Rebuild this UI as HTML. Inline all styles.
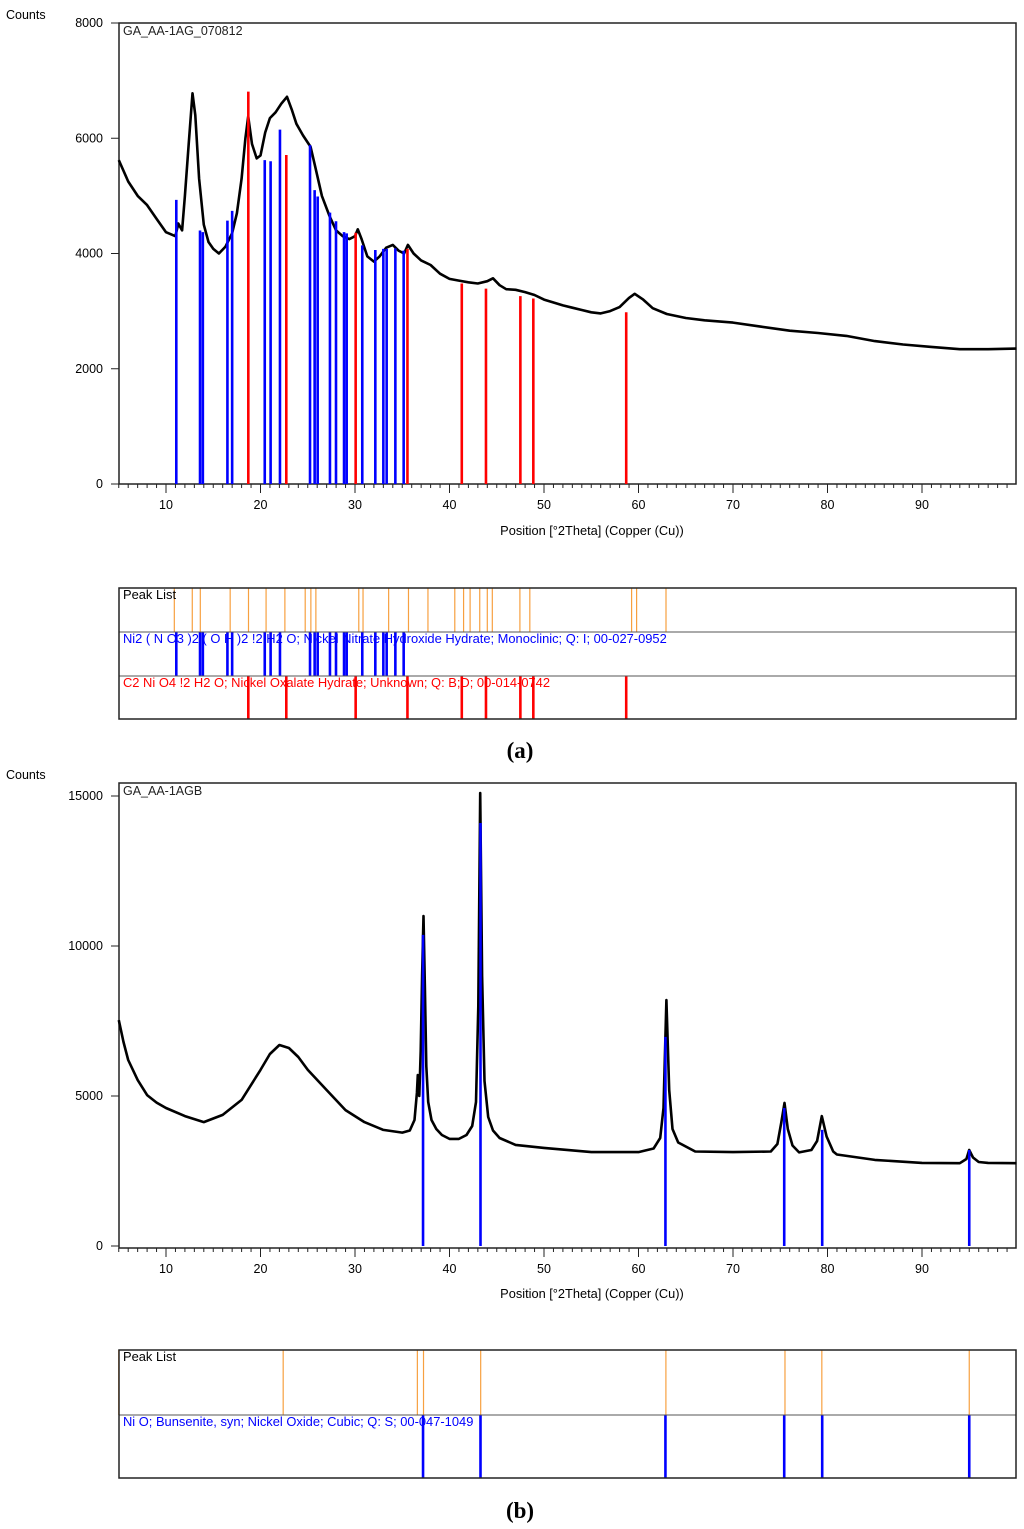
<!DOCTYPE html>
<html><head><meta charset="utf-8"><style>
body{margin:0;background:#fff;}
svg{display:block;font-family:"Liberation Sans",sans-serif;}
</style></head><body>
<svg id="s" width="1024" height="1529" viewBox="0 0 1024 1529" xmlns="http://www.w3.org/2000/svg"></svg>
<script>
// ---------- Data (a) ----------
const curveA_t=[5,6,7,8,9,10,11,11.3,11.7,12,12.4,12.8,13.1,13.5,14,14.5,15,15.6,16.3,17,17.5,18,18.4,18.7,19.1,19.6,20,20.5,21,21.6,22.2,22.8,23.3,23.8,24.5,25.3,25.8,26.5,27.3,28,28.7,29.4,30,30.3,30.7,31.3,32,32.6,33.3,34,34.6,35.2,35.6,36.2,37,38,39,40,41,42,43,44,44.6,45.3,46,47,48,49,50,51,52,53,54,55,56,57,58,59,59.6,60.5,61.5,63,65,67,70,73,76,79,82,85,88,91,94,97,100];
const curveA_c=[5620,5250,5000,4840,4600,4370,4300,4520,4400,5000,5900,6780,6400,5300,4500,4200,4080,4000,4120,4350,4700,5300,6000,6380,5900,5650,5700,6100,6350,6450,6600,6720,6500,6250,6050,5850,5500,5000,4650,4400,4300,4250,4300,4420,4250,3950,3860,3950,4100,4150,4050,4000,4150,4000,3880,3800,3650,3560,3530,3500,3480,3520,3570,3450,3380,3370,3330,3280,3200,3150,3100,3060,3020,2980,2960,3000,3070,3230,3300,3200,3050,2950,2880,2840,2800,2730,2660,2620,2570,2480,2420,2380,2340,2340,2350];
const blueA_t=[11.09,13.6,13.9,16.5,17.0,20.45,21.07,22.06,25.24,25.73,26.05,27.35,27.99,28.84,29.12,30.77,32.15,33.0,33.35,34.27,35.15];
const blueA_c=[4930,4400,4370,4570,4740,5620,5600,6150,5880,5100,4990,4710,4560,4370,4350,4140,4060,4080,4080,4090,4050];
const redA_t=[18.71,22.73,30.07,35.55,41.3,43.86,47.5,48.87,58.7];
const redA_c=[6810,5710,4360,4080,3480,3390,3260,3220,2980];
const peaksA_t=[10.88,12.78,13.63,16.79,18.73,20.59,22.58,24.73,25.33,25.86,30.40,30.85,33.56,35.66,37.72,40.56,41.49,42.18,43.20,44.00,44.53,47.45,48.50,59.27,59.80,62.91];
const yTicksA=[0,2000,4000,6000,8000];
// ---------- Data (b) ----------
const curveB_t=[5,5.5,6,7,8,9,10,12,14,16,18,20,21,22,23,24,25,27,29,31,33,35,35.8,36.3,36.55,36.65,36.8,36.95,37.1,37.25,37.4,37.55,37.75,38.1,38.6,39.2,40,41,41.8,42.4,42.8,43.05,43.25,43.45,43.7,44.1,44.6,45.3,47,50,55,60,61.6,62.3,62.65,62.95,63.25,63.6,64.2,66,70,74,74.7,75.1,75.45,75.8,76.3,77,78.3,78.9,79.4,79.9,80.6,81,85,90,94,94.7,95.0,95.4,96,97,100];
const curveB_c=[7530,6800,6200,5530,5030,4780,4600,4330,4130,4370,4870,5870,6400,6700,6600,6300,5870,5200,4530,4130,3870,3780,3850,4200,5100,5700,5000,6500,9000,11000,8600,6000,4800,4200,3900,3700,3570,3570,3700,4000,4800,8000,15100,9000,5500,4300,3850,3600,3370,3270,3130,3130,3250,3600,4600,8200,5200,3900,3450,3150,3130,3150,3400,4100,4770,3900,3350,3120,3200,3500,4330,3650,3150,3050,2870,2770,2760,2900,3200,2950,2800,2770,2760];
const blueB_t=[37.2,43.28,62.85,75.42,79.44,95.0];
const blueB_c=[10370,14100,6970,4600,3870,3200];
const peaksB_t=[5.0,22.4,36.6,37.25,43.3,62.9,75.5,79.4,95.0];
const yTicksB=[0,5000,10000,15000];
const xTicks=[10,20,30,40,50,60,70,80,90];

const S=document.getElementById('s');
const NS='http://www.w3.org/2000/svg';
function mk(tag,attrs,parent){const e=document.createElementNS(NS,tag);for(const k in attrs)e.setAttribute(k,attrs[k]);(parent||S).appendChild(e);return e;}
function X(t){return 118.75+(t-5)*9.45;}
function yA(c){return 484-c*461/8000;}
function yB(c){return 1246-c*0.03;}
function txt(x,y,s,opt){const e=mk('text',Object.assign({x:x,y:y,'font-size':12,fill:'#000'},opt||{}));e.textContent=s;return e;}

function chart(top,bottom,yfn,yt,curT,curC,sticks,label,name){
  const g=mk('g',{});
  
  
  const fr=mk('rect',{x:119,y:top,width:897,height:bottom-top,fill:'none',stroke:'#222','stroke-width':1.5},g);
  
  
  for(let t=5;t<=99;t++){const major=t%10===0;mk('line',{x1:X(t),x2:X(t),y1:bottom,y2:bottom+(major?9:4),stroke:'#222','stroke-width':1},g);}
  xTicks.forEach(t=>{const l=txt(X(t),bottom+25,String(t),{'text-anchor':'middle','font-size':12.5});g.appendChild(l);
    
    });
  yt.forEach(v=>{mk('line',{x1:111,x2:119,y1:yfn(v),y2:yfn(v),stroke:'#222','stroke-width':1},g);
    const l=txt(103,yfn(v)+4,String(v),{'text-anchor':'end','font-size':12.5});g.appendChild(l);
    
    });
  const pts=curT.map((t,i)=>X(t).toFixed(1)+','+yfn(curC[i]).toFixed(1)).join(' ');
  const pl=mk('polyline',{points:pts,fill:'none',stroke:'#000','stroke-width':2.6,'stroke-linejoin':'round'},g);
  
  
  sticks.forEach(s=>{s.t.forEach((t,i)=>{const l=mk('line',{x1:X(t),x2:X(t),y1:yfn(0),y2:yfn(s.c[i]),stroke:s.col,'stroke-width':2.6},g);
    
    });});
  const tl=txt(123,top+12,label,{fill:'#222','font-size':12.5});g.appendChild(tl);
  
  
}
function peakBox(top,rows,name){
  const total=rows.reduce((a,r)=>a+r.h,0);
  const g=mk('g',{});
  
  
  let y=top;
  rows.forEach((r,ri)=>{
    r.t.forEach(t=>{const l=mk('line',{x1:X(t),x2:X(t),y1:y,y2:y+r.h,stroke:r.col,'stroke-width':r.w},g);
      
      });
    if(ri>0)mk('line',{x1:119,x2:1016,y1:y,y2:y,stroke:'#555','stroke-width':1},g);
    const l=txt(123,y+11,r.label,{fill:r.tcol,'font-size':12.9});g.appendChild(l);
    
    
    y+=r.h;});
  const fr=mk('rect',{x:119,y:top,width:897,height:total,fill:'none',stroke:'#222','stroke-width':1.5},g);
  
  
}
// Chart (a)
let c=txt(6,19,'Counts',{'font-size':12.5});


chart(23,484,yA,yTicksA,curveA_t,curveA_c,[{t:blueA_t,c:blueA_c,col:'#0000ff',name:'nickel-nitrate-stick'},{t:redA_t,c:redA_c,col:'#ff0000',name:'nickel-oxalate-stick'}],'GA_AA-1AG_070812','chart-a');
c=txt(592,535,'Position [°2Theta] (Copper (Cu))',{'text-anchor':'middle','font-size':12.8});


peakBox(588,[{h:44,t:peaksA_t,col:'#f7a040',w:1.2,label:'Peak List',tcol:'#000',name:'peak-list-line'},
 {h:44,t:blueA_t,col:'#0000ff',w:2.6,label:'Ni2 ( N O3 )2 ( O H )2 !2 H2 O; Nickel Nitrate Hydroxide Hydrate; Monoclinic; Q: I; 00-027-0952',tcol:'#0000ff',name:'nickel-nitrate-ref'},
 {h:43,t:redA_t,col:'#ff0000',w:2.6,label:'C2 Ni O4 !2 H2 O; Nickel Oxalate Hydrate; Unknown; Q: B;D; 00-014-0742',tcol:'#ff0000',name:'nickel-oxalate-ref'}],'peak-list-a');
c=txt(520,758,'(a)',{'text-anchor':'middle','font-size':23,'font-family':'Liberation Serif,serif','font-weight':'bold'});


// Chart (b)
c=txt(6,779,'Counts',{'font-size':12.5});


chart(783,1248,yB,yTicksB,curveB_t,curveB_c,[{t:blueB_t,c:blueB_c,col:'#0000ff',name:'nickel-oxide-stick'}],'GA_AA-1AGB','chart-b');
c=txt(592,1298,'Position [°2Theta] (Copper (Cu))',{'text-anchor':'middle','font-size':12.8});


peakBox(1350,[{h:65,t:peaksB_t,col:'#f7a040',w:1.2,label:'Peak List',tcol:'#000',name:'peak-list-line'},
 {h:63,t:blueB_t,col:'#0000ff',w:2.6,label:'Ni O; Bunsenite, syn; Nickel Oxide; Cubic; Q: S; 00-047-1049',tcol:'#0000ff',name:'nickel-oxide-ref'}],'peak-list-b');
c=txt(520,1518,'(b)',{'text-anchor':'middle','font-size':23,'font-family':'Liberation Serif,serif','font-weight':'bold'});


</script>
</body></html>
